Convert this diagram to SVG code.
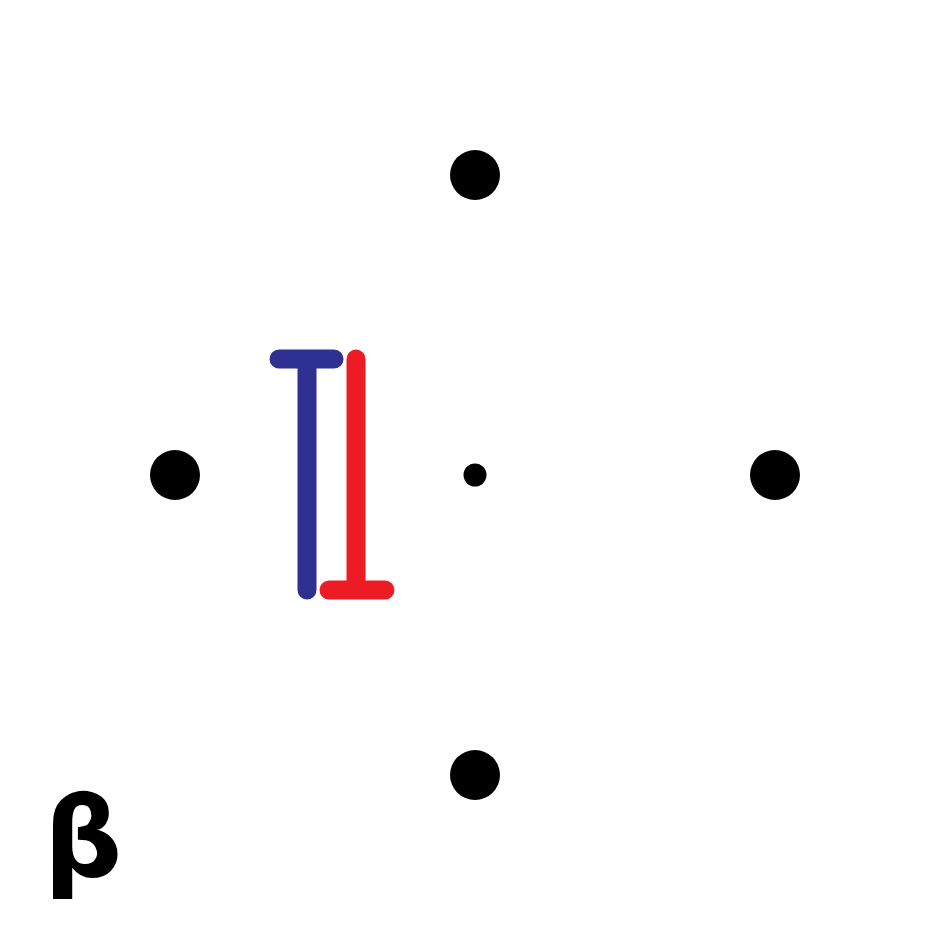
<svg xmlns="http://www.w3.org/2000/svg" width="950" height="950" viewBox="0 0 950 950">
<style>
.dot{fill:#000}
.bar{fill:none;stroke-width:19;stroke-linecap:round}
.blue{stroke:#2e3192}
.red{stroke:#ed1c24}
.lbl{font-family:"DejaVu Sans",sans-serif;font-weight:bold;fill:#000}
</style>
<rect width="950" height="950" fill="#fff"/>
<g id="node-top"><circle class="dot" cx="475" cy="175" r="25"/></g>
<g id="node-left"><circle class="dot" cx="175" cy="475" r="25"/></g>
<g id="node-right"><circle class="dot" cx="775" cy="475" r="25"/></g>
<g id="node-bottom"><circle class="dot" cx="475" cy="775" r="25"/></g>
<g id="node-center"><circle class="dot" cx="475" cy="475" r="11.5"/></g>
<g id="connectors">
<path class="bar blue" d="M279,359 H334 M307,359 V590"/>
<path class="bar red" d="M356,359 V590 M329,590 H385"/>
</g>
<g id="label-beta"><text class="lbl" x="83" y="876" font-size="110" text-anchor="middle">β</text></g>
</svg>
